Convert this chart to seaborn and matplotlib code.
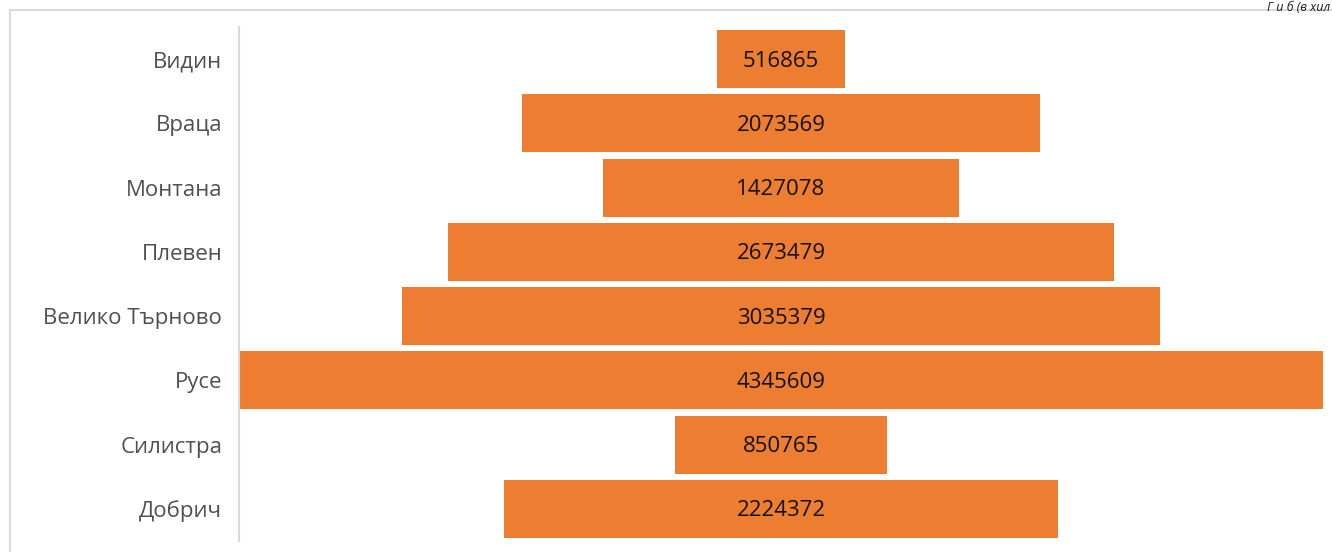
import matplotlib
matplotlib.use("Agg")
import matplotlib.pyplot as plt
import seaborn as sns
import pandas as pd
from matplotlib.patches import Rectangle

regions = ["Видин", "Враца", "Монтана", "Плевен", "Велико Търново", "Русе", "Силистра", "Добрич"]
values = [516865, 2073569, 1427078, 2673479, 3035379, 4345609, 850765, 2224372]

sns.set_theme(style="white")
plt.rcParams['font.family'] = ['Open Sans', 'DejaVu Sans']

df = pd.DataFrame({"region": regions, "value": values})
df["half"] = df["value"] / 2
df["neg"] = -df["value"] / 2

fig = plt.figure(figsize=(13.32, 5.52), dpi=100)
ax = fig.add_axes([239/1332, 1 - 541/552, (1323-239)/1332, (541-27)/552])

orange = "#ED7D31"
sns.barplot(data=df, x="half", y="region", color=orange, width=0.9, ax=ax, saturation=1,
            orient="h", linewidth=0, edgecolor=orange)
sns.barplot(data=df, x="neg", y="region", color=orange, width=0.9, ax=ax, saturation=1,
            orient="h", linewidth=0, edgecolor=orange)

m = max(values) / 2
ax.set_xlim(-m, m)
ax.set_xticks([])
ax.set_xlabel("")
ax.set_ylabel("")
for s in ["top", "right", "bottom"]:
    ax.spines[s].set_visible(False)
ax.spines["left"].set_color("#D9D9D9")
ax.spines["left"].set_linewidth(1.5)
ax.tick_params(axis="y", length=0, pad=12, labelsize=16, labelcolor="#505050")

for i, v in enumerate(values):
    ax.text(0, i + 0.03, str(v), ha="center", va="center", fontsize=16, color="#111111")

# outer frame
fig.patches.append(Rectangle((10/1332, -0.1), 2.0, (552-10)/552 + 0.1, transform=fig.transFigure,
                             fill=False, edgecolor="#D9D9D9", linewidth=1.5))
# partial title text at top right
fig.text(1330/1332, 1 - 1/552, "Г и б (в хил", ha="right", va="top", fontsize=9,
         style="italic", color="#1a1a1a")

fig.savefig("out.png", dpi=100)
